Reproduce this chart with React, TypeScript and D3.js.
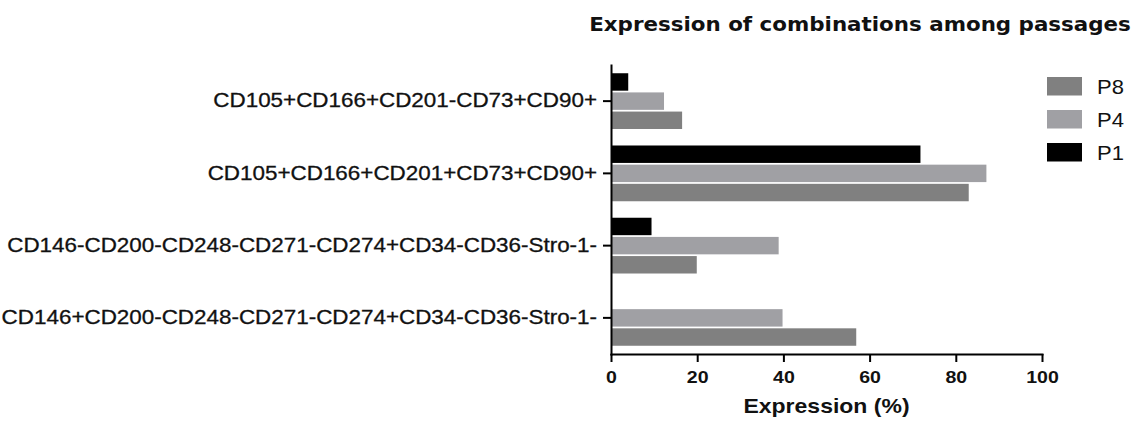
import { type FC, useEffect, useRef } from 'react';
import * as d3 from 'd3';

// combinations on the y axis, top to bottom
const categories = [
  'CD105+CD166+CD201-CD73+CD90+',
  'CD105+CD166+CD201+CD73+CD90+',
  'CD146-CD200-CD248-CD271-CD274+CD34-CD36-Stro-1-',
  'CD146+CD200-CD248-CD271-CD274+CD34-CD36-Stro-1-',
];

// expression (%) per passage, same order as categories
const p1Values = [4.0, 71.8, 9.4, 0.2];
const p4Values = [12.3, 87.1, 38.9, 39.8];
const p8Values = [16.5, 83.0, 19.9, 56.9];

const barOrder = ['P1', 'P4', 'P8']; // top to bottom inside a group
const legendOrder = ['P8', 'P4', 'P1'];
const xTicks = [0, 20, 40, 60, 80, 100];

const title = 'Expression of combinations among passages';
const xTitle = 'Expression (%)';

const colors: Record<string, string> = {
  P1: '#000000',
  P4: '#a0a0a4',
  P8: '#808080',
};

const width = 1139;
const height = 424;
const plot = { left: 611, right: 1042, top: 65, bottom: 354 };
const stretch = 1.15; // the source text is a bit wider than plain Arial
const labelFont = 'Arial, "Liberation Sans", sans-serif';
const textColor = '#111';

const App: FC = () => {
  const ref = useRef<SVGSVGElement>(null);

  useEffect(() => {
    document.body.style.margin = '0';
    const dom = ref.current;
    if (!dom) return;
    const svg = d3.select(dom);
    svg.selectAll('*').remove();

    const values: Record<string, number[]> = { P1: p1Values, P4: p4Values, P8: p8Values };
    const rows = categories.flatMap((c, i) =>
      barOrder.map((s) => ({ category: c, series: s, value: values[s][i] })),
    );

    const x = d3.scaleLinear().domain([0, 100]).range([plot.left, plot.right]);
    const y = d3
      .scaleBand<string>()
      .domain(categories)
      .range([plot.top, plot.bottom])
      .padding(0);
    const yInner = d3
      .scaleBand<string>()
      .domain(barOrder)
      .range([0, y.bandwidth()])
      .paddingInner(0.09)
      .paddingOuter(0.43);

    // bars
    svg
      .append('g')
      .selectAll('rect')
      .data(rows)
      .join('rect')
      .attr('x', x(0))
      .attr('y', (d) => y(d.category)! + yInner(d.series)!)
      .attr('width', (d) => x(d.value) - x(0))
      .attr('height', yInner.bandwidth())
      .attr('fill', (d) => colors[d.series]);

    // x axis
    const gx = svg
      .append('g')
      .attr('transform', `translate(0,${plot.bottom})`)
      .call(
        d3
          .axisBottom(x)
          .tickValues(xTicks)
          .tickSize(8)
          .tickPadding(9)
          .tickSizeOuter(0)
          .tickFormat(d3.format('d')),
      );
    gx.select('.domain').attr('stroke', '#000').attr('stroke-width', 2).attr('stroke-linecap', 'square');
    gx.selectAll('.tick line').attr('stroke', '#000').attr('stroke-width', 2);
    gx.selectAll('.tick text')
      .attr('fill', textColor)
      .attr('font-family', labelFont)
      .attr('font-weight', 'bold')
      .attr('font-size', 17)
      .attr('transform', `scale(${stretch},1)`);

    // y axis
    const gy = svg
      .append('g')
      .attr('transform', `translate(${plot.left},0)`)
      .call(d3.axisLeft(y).tickSize(8).tickPadding(6).tickSizeOuter(0));
    gy.select('.domain').attr('stroke', '#000').attr('stroke-width', 2).attr('stroke-linecap', 'square');
    gy.selectAll('.tick line').attr('stroke', '#000').attr('stroke-width', 2);
    gy.selectAll<SVGTextElement, string>('.tick text')
      .attr('fill', textColor)
      .attr('font-family', labelFont)
      .attr('font-size', 19.5)
      .attr('stroke', textColor)
      .attr('stroke-width', 0.3)
      .attr('x', 0)
      .attr('transform', `translate(-14,0) scale(${stretch},1)`);

    // x axis title
    svg
      .append('text')
      .attr('transform', `translate(${(plot.left + plot.right) / 2},413) scale(${stretch},1)`)
      .attr('text-anchor', 'middle')
      .attr('font-family', labelFont)
      .attr('font-weight', 'bold')
      .attr('font-size', 20)
      .attr('fill', textColor)
      .text(xTitle);

    // chart title
    svg
      .append('text')
      .attr('transform', `translate(860,31) scale(1.07,1)`)
      .attr('text-anchor', 'middle')
      .attr('font-family', '"DejaVu Sans", Verdana, sans-serif')
      .attr('font-weight', 'bold')
      .attr('font-size', 20)
      .attr('fill', '#111')
      .text(title);

    // legend
    const legend = svg
      .append('g')
      .selectAll('g')
      .data(legendOrder)
      .join('g')
      .attr('transform', (_d, i) => `translate(1047,${77 + i * 33})`);
    legend
      .append('rect')
      .attr('width', 35)
      .attr('height', 18.5)
      .attr('fill', (d) => colors[d]);
    legend
      .append('text')
      .attr('transform', `translate(50,9.5) scale(1.1,1)`)
      .attr('dy', '0.35em')
      .attr('font-family', labelFont)
      .attr('font-size', 20)
      .attr('fill', textColor)
      .text((d) => d);
  }, []);

  return <svg ref={ref} width={width} height={height} style={{ display: 'block', background: '#fff' }} />;
};

export default App;
